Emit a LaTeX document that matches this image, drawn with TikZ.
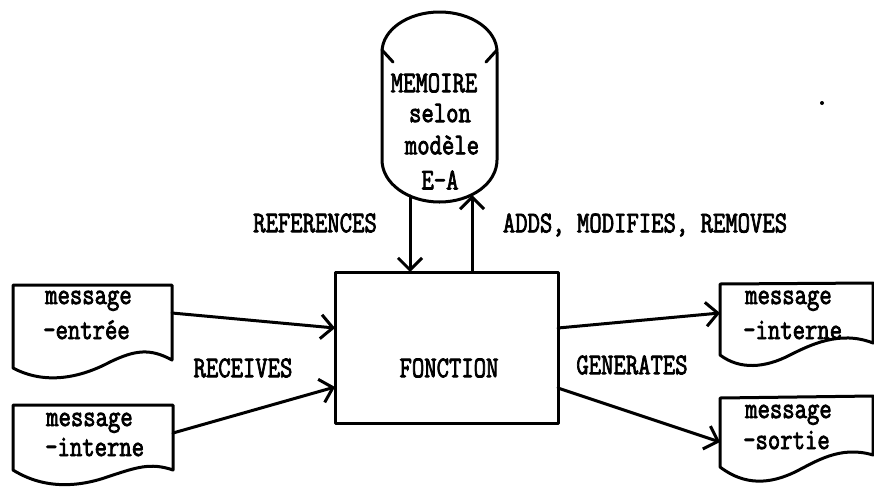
\documentclass[tikz,border=0pt]{standalone}
\usepackage{graphicx}
\usetikzlibrary{arrows.meta}
\tikzset{
  ln/.style={line width=3pt, line cap=round, line join=round},
  arr/.style={ln, -{Straight Barb[length=12pt,width=24pt,line width=3pt]}},
  txt/.style={font=\ttfamily\fontsize{24}{30}\selectfont, inner sep=0pt},
  dtxt/.style={txt, anchor=base west},
  fbox/.style={ln, draw, minimum width=223pt, minimum height=151pt, inner sep=0pt},
}
\newcommand{\tw}[1]{\scalebox{1}[1.25]{\special{pdf:literal direct 2 Tr 0.7 w}#1}}
\begin{document}
\begin{tikzpicture}[x=1pt,y=-1pt]
\useasboundingbox (0,0) rectangle (874,490);
\fill[white] (0,0) rectangle (874,490);

% memory store
\draw[ln] (382,52) -- (382,160)
  arc[start angle=180, end angle=360, x radius=57.5pt, y radius=42pt]
  -- (497,52)
  arc[start angle=0, end angle=180, x radius=57.5pt, y radius=40pt] -- cycle;
\draw[ln] (382,50) -- (393,62);
\draw[ln] (497,50) -- (486,62);
\node[txt] (m1) at (434,83) {\tw{MEMOIRE}};
\node[txt] (m2) at (440,113) {\tw{selon}};
\node[txt] (m3) at (442,145) {\tw{modèle}};
\node[txt] (m4) at (440,180) {\tw{E-A}};
\coordinate (memA) at (410,196);
\coordinate (memB) at (472,195);

% function box
\node[fbox] (fn) at (446.5,347.5) {};
\node[txt] (fnt) at (449,368) {\tw{FONCTION}};
\coordinate (fnA) at (410,272);
\coordinate (fnB) at (472,272);
\coordinate (fi1) at (335,328);
\coordinate (fi2) at (335,387);
\coordinate (fo1) at (558,328);
\coordinate (fo2) at (558,388);

% documents
\draw[ln] (13,285) -- (172,285) -- (172,360)
  .. controls (150,348) and (135,350) .. (110,362)
  .. controls (80,378) and (45,385) .. (13,368) -- cycle;
\draw[ln] (13,405) -- (173,405) -- (173,470)
  .. controls (150,462) and (135,468) .. (110,476)
  .. controls (80,487) and (45,490) .. (13,470) -- cycle;
\draw[ln] (720,284) -- (873,283) -- (873,343)
  .. controls (840,330) and (810,345) .. (790,355)
  .. controls (765,368) and (740,370) .. (720,355) -- cycle;
\draw[ln] (720,398) -- (873,396) -- (873,455)
  .. controls (840,445) and (815,462) .. (795,472)
  .. controls (770,484) and (745,486) .. (720,467) -- cycle;
\coordinate (d1o) at (172,313);
\coordinate (d2o) at (173,433);
\coordinate (d3i) at (720,313);
\coordinate (d4i) at (720,442);

\node[dtxt] (t1a) at (45,304) {\tw{message}};
\node[dtxt] (t1b) at (43,339) {\tw{-entrée}};
\node[dtxt] (t2a) at (46,426) {\tw{message}};
\node[dtxt] (t2b) at (45,456) {\tw{-interne}};
\node[dtxt] (t3a) at (745,304) {\tw{message}};
\node[dtxt] (t3b) at (743,339) {\tw{-interne}};
\node[dtxt] (t4a) at (745,418) {\tw{message}};
\node[dtxt] (t4b) at (743,449) {\tw{-sortie}};

% connectors
\draw[arr] (memA) -- (fnA);
\draw[arr] (fnB) -- (memB);
\draw[arr] (d1o) -- (fi1);
\draw[arr] (d2o) -- (fi2);
\draw[arr] (fo1) -- (d3i);
\draw[arr] (fo2) -- (d4i);

% labels
\node[txt] (lref) at (315,223) {\tw{REFERENCES}};
\node[txt] (ladd) at (645,225) {\tw{ADDS, MODIFIES, REMOVES}};
\node[txt] (lrec) at (243,368) {\tw{RECEIVES}};
\node[txt] (lgen) at (632,365) {\tw{GENERATES}};

\fill (822,103) circle (2pt);
\end{tikzpicture}
\end{document}
